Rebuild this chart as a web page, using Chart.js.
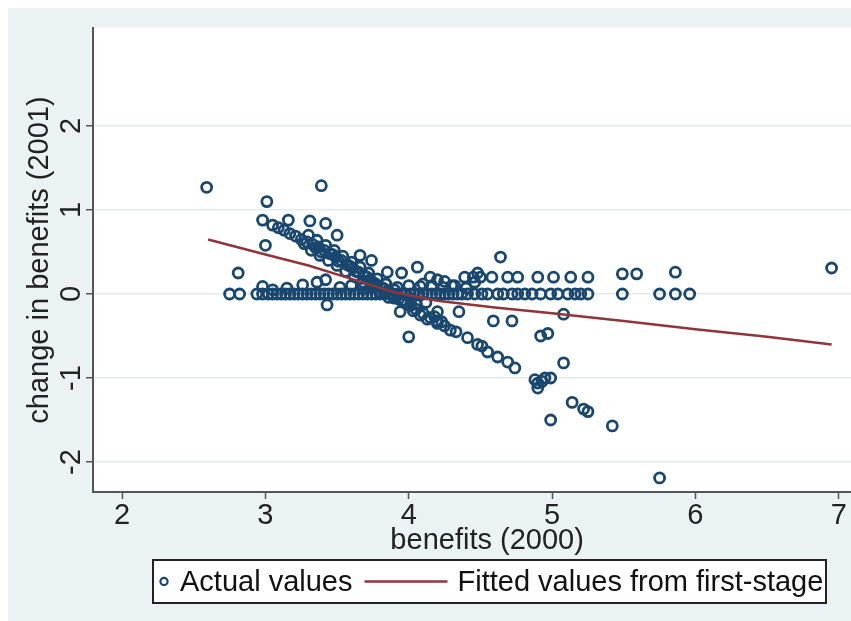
<!DOCTYPE html>
<html>
<head>
<meta charset="utf-8">
<title>Change in benefits vs benefits</title>
<script src="https://cdn.jsdelivr.net/npm/chart.js@4.4.1/dist/chart.umd.min.js"></script>
<style>
    html, body { margin: 0; padding: 0; background: #ffffff; overflow: hidden; }
    /* the reference is cropped on the right, so the canvas is wider than the view */
    #wrap { width: 851px; height: 621px; overflow: hidden; }
</style>
</head>
<body>
<div id="wrap"><canvas id="benefitsChart" width="889" height="621"></canvas></div>
<script>
// Values

// Tick labels
const xTicks = [2, 3, 4, 5, 6, 7];
const yTicks = [-2, -1, 0, 1, 2];

// Observations with no change (they sit on the zero line)
const zeroRowX = [2.75, 2.82, 2.94, 2.98, 3.02, 3.05, 3.08, 3.11, 3.14, 3.17, 3.2, 3.23, 3.26, 3.29,
    3.32, 3.35, 3.38, 3.41, 3.44, 3.47, 3.5, 3.53, 3.56, 3.59, 3.62, 3.65, 3.68, 3.71, 3.74, 3.77,
    3.8, 3.83, 3.86, 3.89, 3.92, 3.95, 3.98, 4.01, 4.04, 4.07, 4.1, 4.13, 4.16, 4.19, 4.22, 4.25,
    4.28, 4.31, 4.34, 4.37, 4.41, 4.46, 4.51, 4.55, 4.62, 4.66, 4.72, 4.76, 4.81, 4.86, 4.92, 4.99,
    5.04, 5.11, 5.16, 5.2, 5.25, 5.49, 5.75, 5.86, 5.96];

// The falling diagonal band
const bandX = [3.05, 3.09, 3.13, 3.17, 3.21, 3.25, 3.29, 3.33, 3.37, 3.41, 3.45, 3.49, 3.53, 3.57,
    3.61, 3.65, 3.69, 3.73, 3.77, 3.81, 3.85, 3.89, 3.93, 3.97, 4.01, 4.05, 4.1, 4.15, 4.2, 4.25,
    4.29, 4.33, 4.41, 4.48, 4.51, 4.55, 4.62, 4.69, 4.74,
    3.3, 3.36, 3.42, 3.48, 3.54, 3.6, 3.66, 3.72, 3.78, 3.84, 3.9,
    3.32, 3.38, 3.44, 3.5, 3.56, 3.62, 3.68, 3.74, 3.8, 3.86,
    3.27, 3.35, 3.39, 3.47, 3.51, 3.59, 3.63, 3.71, 3.75, 3.83, 3.87, 3.95,
    4.03, 4.08, 4.13, 4.18, 4.23];
const bandY = [0.82, 0.79, 0.76, 0.72, 0.69, 0.65, 0.62, 0.59, 0.56, 0.52, 0.48, 0.44, 0.4, 0.35,
    0.31, 0.26, 0.22, 0.17, 0.12, 0.08, 0.03, -0.01, -0.06, -0.1, -0.14, -0.18, -0.23, -0.28, -0.32, -0.38,
    -0.43, -0.45, -0.52, -0.6, -0.62, -0.69, -0.75, -0.81, -0.88,
    0.7, 0.64, 0.58, 0.52, 0.45, 0.38, 0.32, 0.25, 0.18, 0.12, 0.05,
    0.52, 0.46, 0.4, 0.34, 0.27, 0.21, 0.14, 0.08, 0.02, -0.04,
    0.6, 0.55, 0.5, 0.47, 0.39, 0.33, 0.27, 0.2, 0.14, 0.06, 0.0, -0.08,
    -0.2, -0.25, -0.3, -0.27, -0.33];

// Points just above / below the zero line
const nearZeroX = [3.52, 3.6, 3.68, 3.76, 3.84, 3.92, 4.0, 4.08, 4.16, 4.24, 4.32, 4.4, 3.9, 4.02];
const nearZeroY = [0.08, 0.1, 0.07, 0.1, 0.12, 0.08, 0.1, 0.09, 0.1, 0.08, 0.1, 0.07, -0.05, -0.06];

// Remaining scattered observations
const otherX = [2.59, 3.39, 3.01, 2.98, 3.16, 3.31, 3.42, 3.5, 3.0, 2.81,
    2.98, 3.05, 3.15, 3.26, 3.36, 3.42, 3.43,
    3.66, 3.74, 3.85, 3.95, 4.06, 4.15, 4.2, 4.1, 4.25, 4.3, 4.39, 4.48, 4.46, 4.45, 4.5, 4.58,
    4.69, 4.76, 4.9, 5.01, 5.13, 5.25, 4.64, 5.49, 5.59, 5.86, 6.95,
    3.94, 4.0, 4.2, 4.2, 4.35, 4.59, 4.72, 5.08, 4.92, 4.97, 5.08, 4.88, 4.9, 4.93, 4.95, 4.99,
    4.9, 5.14, 5.22, 5.25, 4.99, 5.42, 5.75, 3.96, 4.05, 4.12];
const otherY = [1.27, 1.29, 1.1, 0.88, 0.88, 0.87, 0.84, 0.7, 0.58, 0.25,
    0.09, 0.05, 0.07, 0.11, 0.14, 0.17, -0.13,
    0.46, 0.4, 0.26, 0.25, 0.32, 0.2, 0.17, 0.12, 0.15, 0.1, 0.2, 0.25, 0.14, 0.2, 0.2, 0.2,
    0.2, 0.2, 0.2, 0.2, 0.2, 0.2, 0.44, 0.24, 0.24, 0.26, 0.31,
    -0.21, -0.51, -0.21, -0.35, -0.21, -0.32, -0.32, -0.24, -0.5, -0.47, -0.82, -1.02, -1.06, -1.04, -1.0, -1.0,
    -1.12, -1.29, -1.37, -1.4, -1.5, -1.57, -2.19, -0.08, -0.12, -0.1];

// Fitted values from first stage
const fittedX = [2.6, 3.0, 3.3, 3.6, 3.9, 4.2, 4.6, 5.0, 5.5, 6.0, 6.5, 6.95];
const fittedY = [0.65, 0.47, 0.34, 0.18, 0.02, -0.08, -0.16, -0.23, -0.32, -0.42, -0.51, -0.6];

const seriesLabels = ['Actual values', 'Fitted values from first-stage'];

const NAVY = '#1a476f';
const MAROON = '#90353b';
const REGION = '#eaf2f3';
const AXIS = '#555555';
const FONT = '"Liberation Sans", Arial, sans-serif';
const FONT_SIZE = 29;

// build {x, y} points
const actualPoints = [];
zeroRowX.forEach(x => actualPoints.push({ x: x, y: 0 }));
bandX.forEach((x, i) => actualPoints.push({ x: x, y: bandY[i] }));
nearZeroX.forEach((x, i) => actualPoints.push({ x: x, y: nearZeroY[i] }));
otherX.forEach((x, i) => actualPoints.push({ x: x, y: otherY[i] }));
const fittedPoints = fittedX.map((x, i) => ({ x: x, y: fittedY[i] }));

// Stata-like background: light graph region, white plot region
const backgroundPlugin = {
    id: 'stataBackground',
    beforeDraw(chart) {
        const ctx = chart.ctx;
        const area = chart.chartArea;
        ctx.save();
        ctx.fillStyle = '#ffffff';
        ctx.fillRect(0, 0, chart.width, chart.height);
        ctx.fillStyle = REGION;
        ctx.fillRect(8, 8, chart.width - 8, chart.height - 8);
        ctx.fillStyle = '#ffffff';
        ctx.fillRect(area.left, area.top, area.right - area.left, area.bottom - area.top);
        ctx.restore();
    }
};

// y tick labels are drawn vertically, as Stata does
const verticalTicksPlugin = {
    id: 'verticalTicks',
    afterDraw(chart) {
        const ctx = chart.ctx;
        const yScale = chart.scales.y;
        ctx.save();
        ctx.fillStyle = '#222222';
        ctx.font = FONT_SIZE + 'px ' + FONT;
        ctx.textAlign = 'center';
        ctx.textBaseline = 'middle';
        yTicks.forEach(v => {
            const py = yScale.getPixelForValue(v);
            ctx.save();
            ctx.translate(72, py);
            ctx.rotate(-Math.PI / 2);
            ctx.fillText(String(v), 0, 0);
            ctx.restore();
        });
        ctx.restore();
    }
};

// boxed legend under the plot
const boxedLegendPlugin = {
    id: 'boxedLegend',
    afterDraw(chart) {
        const ctx = chart.ctx;
        const box = { left: 153, top: 560, right: 826, bottom: 603 };
        const cy = (box.top + box.bottom) / 2;
        ctx.save();
        ctx.fillStyle = '#ffffff';
        ctx.fillRect(box.left, box.top, box.right - box.left, box.bottom - box.top);
        ctx.strokeStyle = '#222222';
        ctx.lineWidth = 2;
        ctx.strokeRect(box.left, box.top, box.right - box.left, box.bottom - box.top);

        ctx.font = FONT_SIZE + 'px ' + FONT;
        ctx.textBaseline = 'middle';
        ctx.fillStyle = '#111111';

        // hollow circle marker
        let x = 164;
        ctx.beginPath();
        ctx.arc(x, cy, 3.6, 0, Math.PI * 2);
        ctx.strokeStyle = NAVY;
        ctx.lineWidth = 2.2;
        ctx.stroke();

        x = 180;
        ctx.fillText(seriesLabels[0], x, cy + 1);
        x += ctx.measureText(seriesLabels[0]).width + 12;

        ctx.beginPath();
        ctx.moveTo(x, cy);
        ctx.lineTo(x + 83, cy);
        ctx.strokeStyle = MAROON;
        ctx.lineWidth = 2.5;
        ctx.stroke();
        x += 93;

        ctx.fillText(seriesLabels[1], x, cy + 1);
        ctx.restore();
    }
};

const ctx = document.getElementById('benefitsChart').getContext('2d');

const benefitsChart = new Chart(ctx, {
    type: 'scatter',
    data: {
        datasets: [
            {
                type: 'line',
                label: seriesLabels[1],
                data: fittedPoints,
                borderColor: MAROON,
                borderWidth: 2.5,
                pointRadius: 0,
                fill: false,
                tension: 0
            },
            {
                label: seriesLabels[0],
                data: actualPoints,
                pointStyle: 'circle',
                pointRadius: 5,
                pointBorderWidth: 2.8,
                borderColor: NAVY,
                backgroundColor: 'rgba(0,0,0,0)'
            }
        ]
    },
    options: {
        responsive: false,
        animation: false,
        devicePixelRatio: 1,
        layout: {
            padding: { left: 8, top: 28, right: 0, bottom: 61 }
        },
        scales: {
            x: {
                type: 'linear',
                min: 1.797,
                max: 7.296,
                afterBuildTicks: scale => { scale.ticks = xTicks.map(v => ({ value: v })); },
                afterFit: scale => { scale.height = 68; },
                grid: {
                    drawOnChartArea: false,
                    drawTicks: true,
                    tickLength: 7,
                    tickColor: AXIS,
                    tickWidth: 1.5
                },
                border: { color: AXIS, width: 2 },
                ticks: {
                    padding: 0,
                    color: '#222222',
                    font: { family: FONT, size: FONT_SIZE },
                    maxRotation: 0,
                    autoSkip: false
                },
                title: {
                    display: true,
                    text: 'benefits (2000)',
                    color: '#222222',
                    font: { family: FONT, size: FONT_SIZE },
                    padding: { top: 0, bottom: 2 }
                }
            },
            y: {
                type: 'linear',
                min: -2.357,
                max: 3.167,
                afterBuildTicks: scale => { scale.ticks = yTicks.map(v => ({ value: v })); },
                afterFit: scale => { scale.width = 85; },
                grid: {
                    color: '#e2ecef',
                    lineWidth: 1.5,
                    drawTicks: true,
                    tickLength: 7,
                    tickColor: AXIS,
                    tickWidth: 1.5
                },
                border: { color: AXIS, width: 2 },
                ticks: { display: false },
                title: {
                    display: true,
                    text: 'change in benefits (2001)',
                    color: '#222222',
                    font: { family: FONT, size: FONT_SIZE },
                    padding: { top: 15, bottom: 0 }
                }
            }
        },
        plugins: {
            legend: { display: false },
            tooltip: { enabled: false }
        }
    },
    plugins: [backgroundPlugin, verticalTicksPlugin, boxedLegendPlugin]
});
</script>
</body>
</html>
